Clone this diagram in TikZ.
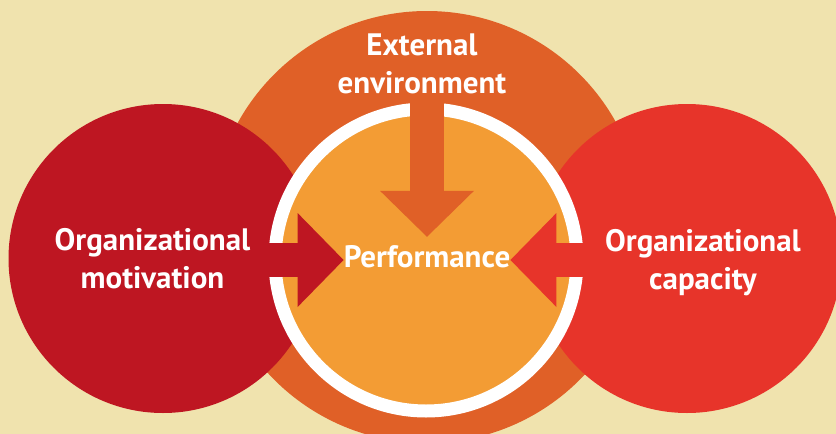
\documentclass[tikz,border=0pt]{standalone}
\usepackage{fontspec}
\setmainfont{PT Sans}
\usetikzlibrary{arrows.meta}
\definecolor{bgbeige}{HTML}{F0E3AE}
\definecolor{envorange}{HTML}{E06027}
\definecolor{perforange}{HTML}{F39C34}
\definecolor{motivred}{HTML}{BE1622}
\definecolor{capred}{HTML}{E7342A}

\begin{document}
\begin{tikzpicture}[x=1pt,y=-1pt,
  lbl/.style={text=white,font=\bfseries\fontsize{31}{38}\selectfont,align=center,inner sep=3pt},
  bigarrow/.style={line width=34pt,-{Triangle[length=46pt,width=94pt,line width=0pt]}}]
\useasboundingbox (0,0) rectangle (836,434);
\clip (0,0) rectangle (836,434);
\fill[bgbeige] (0,0) rectangle (836,434);
\fill[envorange] (427,227) circle (216);
\fill[motivred] (163,258.5) circle (154.5);
\fill[capred] (687,258.5) circle (154.5);
\draw[white,line width=13pt,fill=perforange] (426,260) circle (151);
\node[lbl] (env) at (422,64) {External\\environment};
\node[lbl] (motiv) at (152.5,259) {Organizational\\motivation};
\node[lbl] (cap) at (703,263) {Organizational\\capacity};
\node[lbl,inner xsep=0pt,inner ysep=8pt,text height=22pt,text depth=8pt] (perf) at (427,260) {Performance};
\coordinate (motivout) at (265,260);
\coordinate (capout) at (590,260);
\draw[bigarrow,envorange] (env.south -| perf.north) -- (perf.north);
\draw[bigarrow,motivred] (motivout) -- (perf.west);
\draw[bigarrow,capred] (capout) -- (perf.east);
\end{tikzpicture}
\end{document}
